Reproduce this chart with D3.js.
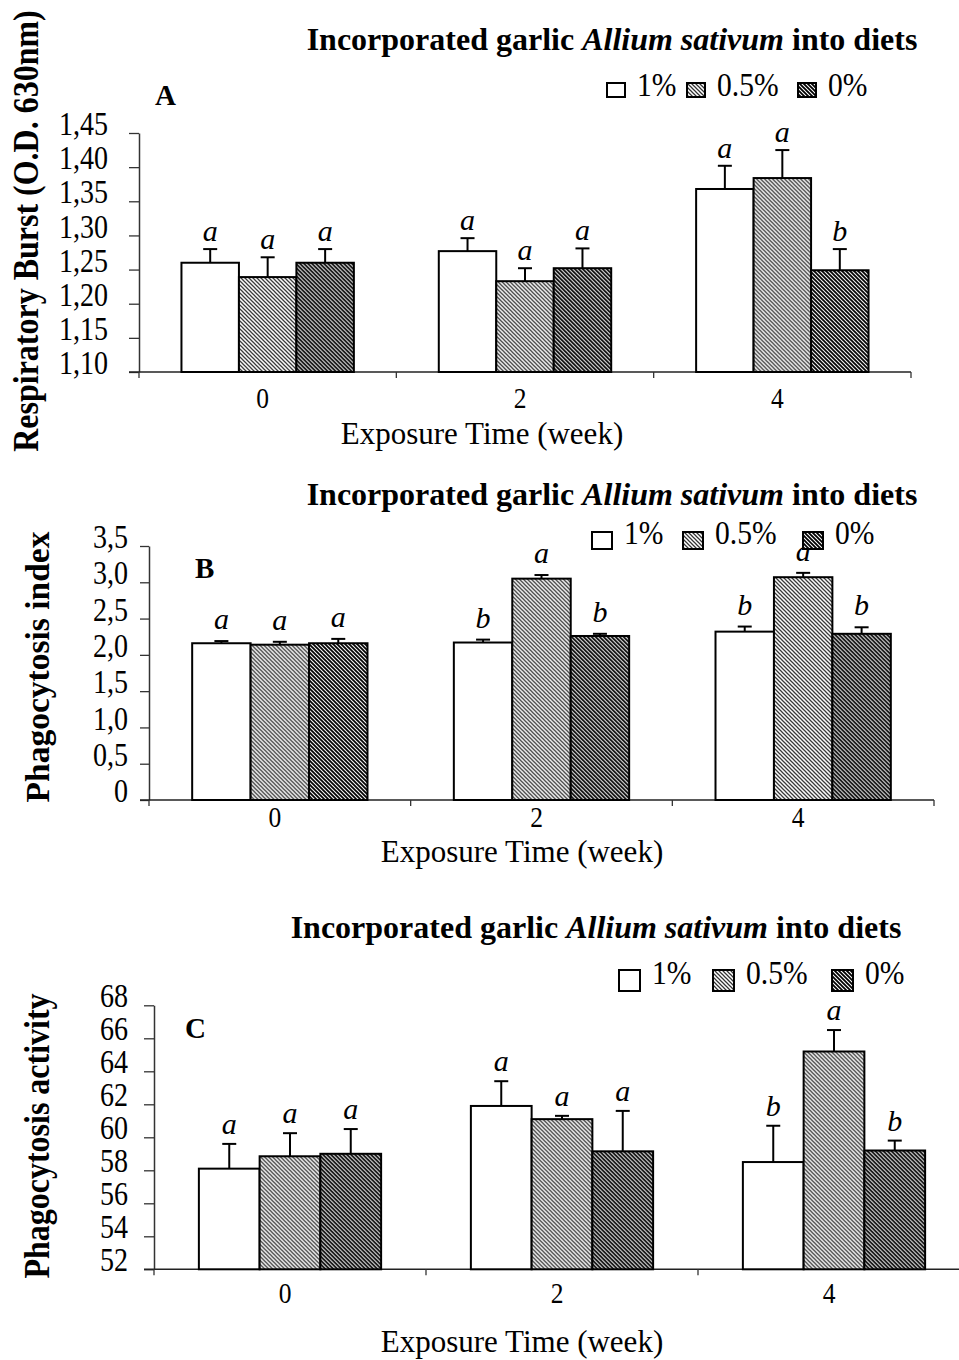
<!DOCTYPE html>
<html>
<head>
<meta charset="utf-8">
<script src="https://cdn.jsdelivr.net/npm/d3@7"></script>
<style>
  body { margin: 0; background: #fff; }
  svg { display: block; }
  text { font-family: "Liberation Serif", "Times New Roman", serif; fill: #000; }
</style>
</head>
<body>
<div id="chart"></div>
<script>
// categories
const weeks = ['0', '2', '4'];
const doses = ['1%', '0.5%', '0%'];

// A: respiratory burst (O.D. 630nm), mean and SE per week
const burst1 = [1.260, 1.277, 1.368];
const burst1Se = [0.020, 0.019, 0.034];
const burst05 = [1.239, 1.233, 1.384];
const burst05Se = [0.029, 0.019, 0.041];
const burst0 = [1.260, 1.252, 1.249];
const burst0Se = [0.020, 0.029, 0.031];
const burstLetters = [['a', 'a', 'a'], ['a', 'a', 'a'], ['a', 'a', 'b']];
const burstTicks = [1.10, 1.15, 1.20, 1.25, 1.30, 1.35, 1.40, 1.45];

// B: phagocytosis index
const index1 = [2.16, 2.17, 2.32];
const index1Se = [0.03, 0.04, 0.07];
const index05 = [2.14, 3.05, 3.07];
const index05Se = [0.04, 0.05, 0.06];
const index0 = [2.16, 2.26, 2.29];
const index0Se = [0.06, 0.03, 0.09];
const indexLetters = [['a', 'b', 'b'], ['a', 'a', 'a'], ['a', 'b', 'b']];
const indexTicks = [0, 0.5, 1.0, 1.5, 2.0, 2.5, 3.0, 3.5];

// C: phagocytosis activity
const activity1 = [58.1, 61.9, 58.5];
const activity1Se = [1.5, 1.5, 2.2];
const activity05 = [58.85, 61.1, 65.2];
const activity05Se = [1.4, 0.2, 1.3];
const activity0 = [59.0, 59.15, 59.2];
const activity0Se = [1.5, 2.45, 0.6];
const activityLetters = [['a', 'a', 'b'], ['a', 'a', 'a'], ['a', 'a', 'b']];
const activityTicks = [52, 54, 56, 58, 60, 62, 64, 66, 68];

const W = 959, H = 1360;
const svg = d3.select('#chart').append('svg')
  .attr('width', W).attr('height', H)
  .attr('viewBox', `0 0 ${W} ${H}`);

const defs = svg.append('defs');
function hatch(id, color, sw) {
  const p = defs.append('pattern').attr('id', id)
    .attr('patternUnits', 'userSpaceOnUse').attr('width', 4).attr('height', 4);
  p.append('rect').attr('width', 4).attr('height', 4).attr('fill', '#fff');
  p.append('path').attr('d', 'M-1,-1 L5,5 M3,-1 L5,1 M-1,3 L1,5')
    .attr('stroke', color).attr('stroke-width', sw);
}
hatch('light', '#333', 1.25);
hatch('dark', '#000', 1.8);
const fills = ['#fff', 'url(#light)', 'url(#dark)'];

function drawPanel(cfg) {
  const g = svg.append('g');
  const x = d3.scaleBand().domain(weeks).range([cfg.left, cfg.right]);
  const bw = x.bandwidth();
  const xs = d3.scaleBand().domain(doses).range([bw * 0.165, bw * 0.835]);
  const y = d3.scaleLinear().domain(cfg.domain).range([cfg.bottom, cfg.top]);

  // y axis
  const yAxis = g.append('g')
    .attr('transform', `translate(${cfg.left},0)`)
    .call(d3.axisLeft(y).tickValues(cfg.ticks).tickFormat(cfg.fmt)
      .tickSize(cfg.tickLen).tickSizeOuter(0));
  yAxis.select('.domain').attr('stroke', '#333').attr('stroke-width', 1.5);
  yAxis.selectAll('.tick line').attr('stroke', '#333').attr('stroke-width', 1.3);
  yAxis.selectAll('.tick text')
    .attr('font-size', 33).attr('font-family', 'Liberation Serif')
    .attr('fill', '#000')
    .attr('x', -(cfg.tickLen + cfg.tickPad) / 0.85).attr('dy', '0.05em')
    .attr('transform', 'scale(0.85,1)');

  // x axis baseline and category boundaries
  g.append('line')
    .attr('x1', cfg.left - cfg.tickLen).attr('x2', cfg.right)
    .attr('y1', cfg.bottom).attr('y2', cfg.bottom)
    .attr('stroke', '#222').attr('stroke-width', 1.5);
  const bounds = weeks.map(d => x(d)).concat([x.range()[1]]);
  g.selectAll('.xtick').data(bounds).join('line')
    .attr('x1', d => d).attr('x2', d => d)
    .attr('y1', cfg.bottom).attr('y2', cfg.bottom + 6)
    .attr('stroke', '#333').attr('stroke-width', 1.3);
  g.selectAll('.xlab').data(weeks).join('text')
    .attr('text-anchor', 'middle').attr('font-size', 30)
    .attr('transform', d => `translate(${x(d) + bw / 2 - 5},${cfg.bottom + cfg.xLabOff}) scale(0.85,1)`)
    .text(d => d);

  // bars
  const rows = [];
  cfg.series.forEach((s, i) => {
    weeks.forEach((w, j) => {
      rows.push({ dose: doses[i], i, week: w, v: s.mean[j], se: s.se[j], letter: cfg.letters[i][j] });
    });
  });
  const bars = g.append('g').selectAll('g').data(rows).join('g')
    .attr('transform', d => `translate(${x(d.week) + xs(d.dose)},0)`);
  bars.append('line')
    .attr('x1', xs.bandwidth() / 2).attr('x2', xs.bandwidth() / 2)
    .attr('y1', d => y(d.v)).attr('y2', d => y(d.v + d.se))
    .attr('stroke', '#000').attr('stroke-width', 2);
  bars.append('line')
    .attr('x1', xs.bandwidth() / 2 - 7).attr('x2', xs.bandwidth() / 2 + 7)
    .attr('y1', d => y(d.v + d.se)).attr('y2', d => y(d.v + d.se))
    .attr('stroke', '#000').attr('stroke-width', 2);
  bars.append('rect')
    .attr('x', 0).attr('width', xs.bandwidth())
    .attr('y', d => y(d.v)).attr('height', d => cfg.bottom - y(d.v))
    .attr('fill', d => fills[d.i]).attr('stroke', '#000').attr('stroke-width', 2);
  bars.append('text')
    .attr('x', xs.bandwidth() / 2).attr('y', d => y(d.v + d.se) - cfg.letterGap)
    .attr('text-anchor', 'middle').attr('font-size', 30).attr('font-style', 'italic')
    .text(d => d.letter);

  // title
  const t = g.append('text').attr('x', cfg.titleX).attr('y', cfg.titleY)
    .attr('text-anchor', 'middle').attr('font-size', 32).attr('font-weight', 'bold');
  t.append('tspan').text('Incorporated garlic ');
  t.append('tspan').attr('font-style', 'italic').text('Allium sativum');
  t.append('tspan').text(' into diets');

  // legend
  const lg = g.append('g');
  doses.forEach((d, i) => {
    lg.append('rect')
      .attr('x', cfg.legX[i]).attr('y', cfg.legY).attr('width', cfg.legW).attr('height', cfg.legH)
      .attr('fill', fills[i]).attr('stroke', '#000').attr('stroke-width', 2);
    lg.append('text')
      .attr('transform', `translate(${cfg.legX[i] + cfg.legW + 12},${cfg.legBase}) scale(0.87,1)`)
      .attr('font-size', 34).text(d);
  });

  // panel letter
  g.append('text').attr('x', cfg.tagX).attr('y', cfg.tagY)
    .attr('font-size', 29).attr('font-weight', 'bold').text(cfg.tag);

  // axis titles
  g.append('text')
    .attr('transform', `translate(${cfg.yTitleX},${cfg.yTitleY}) rotate(-90) scale(1,${cfg.yTitleS})`)
    .attr('text-anchor', 'middle').attr('font-size', cfg.yTitleSize).attr('font-weight', 'bold')
    .text(cfg.yTitle);
  g.append('text').attr('x', cfg.xTitleX).attr('y', cfg.xTitleY)
    .attr('text-anchor', 'middle').attr('font-size', 31)
    .text('Exposure Time (week)');
}

drawPanel({
  tag: 'A', tagX: 155, tagY: 105,
  left: 139, right: 911, top: 133, bottom: 372,
  domain: [1.10, 1.45], ticks: burstTicks, fmt: d => d.toFixed(2).replace('.', ','),
  tickLen: 10, tickPad: 21, xLabOff: 36, letterGap: 8,
  series: [{ mean: burst1, se: burst1Se }, { mean: burst05, se: burst05Se }, { mean: burst0, se: burst0Se }],
  letters: burstLetters,
  titleX: 612, titleY: 50,
  legX: [607, 687, 798], legY: 83, legW: 18, legH: 14, legBase: 96,
  yTitle: 'Respiratory Burst (O.D. 630nm)', yTitleX: 38, yTitleY: 231, yTitleS: 1.15, yTitleSize: 32,
  xTitleX: 482, xTitleY: 444
});

drawPanel({
  tag: 'B', tagX: 195, tagY: 578,
  left: 149, right: 934, top: 546, bottom: 800,
  domain: [0, 3.5], ticks: indexTicks, fmt: d => d === 0 ? '0' : d.toFixed(1).replace('.', ','),
  tickLen: 9, tickPad: 12, xLabOff: 27, letterGap: 12,
  series: [{ mean: index1, se: index1Se }, { mean: index05, se: index05Se }, { mean: index0, se: index0Se }],
  letters: indexLetters,
  titleX: 612, titleY: 505,
  legX: [592, 683, 803], legY: 532, legW: 20, legH: 17, legBase: 544,
  yTitle: 'Phagocytosis index', yTitleX: 49, yTitleY: 667, yTitleS: 1.0, yTitleSize: 33.5,
  xTitleX: 522, xTitleY: 862
});

drawPanel({
  tag: 'C', tagX: 185, tagY: 1038,
  left: 154, right: 970, top: 1005.3, bottom: 1269.3,
  domain: [52, 68], ticks: activityTicks, fmt: d => String(d),
  tickLen: 10, tickPad: 16, xLabOff: 34, letterGap: 10,
  series: [{ mean: activity1, se: activity1Se }, { mean: activity05, se: activity05Se }, { mean: activity0, se: activity0Se }],
  letters: activityLetters,
  titleX: 596, titleY: 938,
  legX: [619, 713, 832], legY: 970, legW: 21, legH: 21, legBase: 984,
  yTitle: 'Phagocytosis activity', yTitleX: 49, yTitleY: 1136, yTitleS: 1.1, yTitleSize: 32,
  xTitleX: 522, xTitleY: 1352
});
</script>
</body>
</html>
